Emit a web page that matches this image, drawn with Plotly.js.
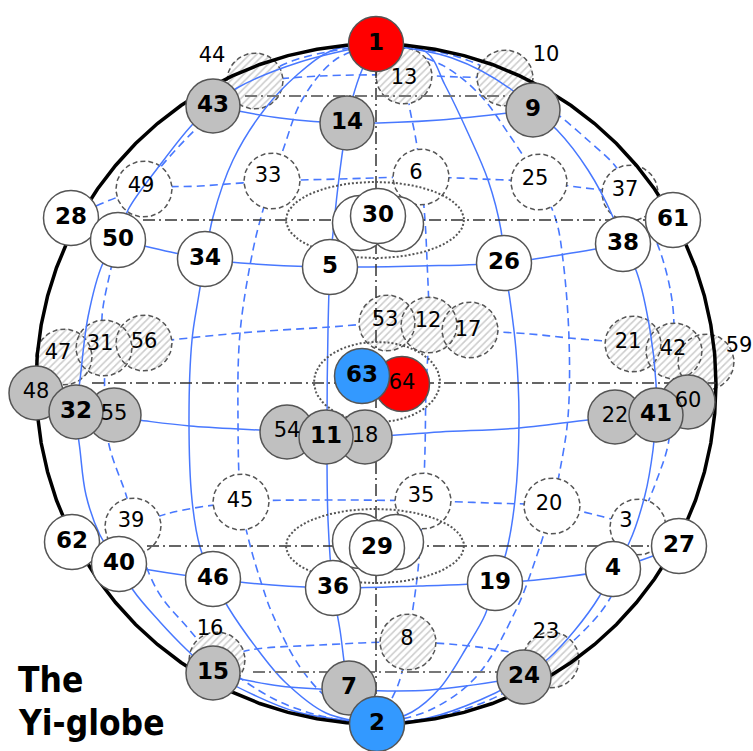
<!DOCTYPE html>
<html><head><meta charset="utf-8">
<script src="https://cdn.plot.ly/plotly-3.0.1.min.js"></script>
<style>html,body{margin:0;padding:0;background:#fff}#chart{width:753px;height:751px}</style>
</head><body><div id="chart"></div>
<script>
// ---------- solid nodes (draw order) ----------
const solidIds  = ['1','43','14','9','28','50','34','','','30','5','26','38','61','48','55','32','54','18','11','64','63','22','60','41','62','40','46','','','29','36','19','4','27','15','7','24','2'];
const solidX    = [376,213,347,533,71,118,205,360,396,378,330,504,623,673,36,114,76,287,365,326,402,362,615,688,656,72,119,213,360,396,377,333,495,613,679,213,349,524,377];
const solidY    = [44,106,123,110,218,240,259,223,224,216,267,263,244,220,393,415,412,432,437,437,384,376,417,402,415,542,564,579,541,542,548,588,583,569,546,673,688,677,724];
const solidKind = ['red','gray','gray','gray','white','white','white','white','white','white','white','white','white','white','gray','gray','gray','gray','gray','gray','red','blue','gray','gray','gray','white','white','white','white','white','white','white','white','white','white','gray','gray','gray','blue'];
const solidBig  = [1,1,1,1,1,1,1,0,0,1,1,1,1,1,0,0,1,0,0,1,0,1,0,0,1,1,1,1,0,0,1,1,1,1,1,1,1,1,1];

// ---------- dashed nodes ----------
const dashIds   = ['44','13','10','49','33','6','25','37','47','31','56','53','12','17','21','42','59','39','45','35','20','3','16','8','23'];
const dashX     = [255,404,505,144,272,421,539,630,64,104,144,387,429,470,633,674,706,133,241,423,552,638,217,408,551];
const dashY     = [81,76,78,189,181,177,182,193,357,348,343,323,325,330,344,351,362,526,502,501,506,527,660,642,660];
const dashHatch = [1,1,1,0,0,0,0,0,1,1,1,1,1,1,1,1,1,0,0,0,0,0,1,1,1];
const dashLabX  = [212,404,546,141,268,416,535,625,58,100,144,385,428,468,628,673,739,131,240,421,549,626,210,407,546];
const dashLabY  = [57,79,56,187,177,174,180,191,354,345,343,321,322,331,343,350,347,522,502,497,505,522,630,640,633];

// ---------- grid lines ----------
const mdA = [[376,44],[295,60],[255,81],[195,130],[144,189],[120,235],[110,273],[102,317],[104,348],[108,440],[127,498],[133,526],[157,590],[187,627],[217,660],[276,700],[330,718],[377,724]];
const mdB = [[376,44],[335,60],[302,100],[283,150],[272,181],[263,210],[253,250],[240,333],[238,420],[241,502],[250,545],[262,585],[272,613],[300,667],[330,700],[377,724]];
const mdC = [[376,44],[392,56],[404,76],[410,110],[416,140],[421,177],[425,220],[427,260],[429,325],[426,390],[425,450],[423,501],[418,570],[412,615],[408,642],[398,685],[377,724]];
const mdD = [[376,44],[442,65],[480,95],[508,133],[539,182],[556,220],[563,260],[569,338],[568,417],[560,470],[552,506],[537,555],[516,610],[476,677],[430,710],[377,724]];
const mdE = [[376,44],[455,56],[505,78],[552,110],[590,142],[616,167],[630,193],[657,243],[672,300],[674,351],[672,400],[668,445],[656,482],[638,527],[622,575],[600,613],[551,660],[500,695],[440,716],[377,724]];
const pd1 = [[255,81],[320,76],[404,75],[460,77],[505,78]];
const pd2 = [[96,206],[144,189],[200,186],[272,181],[340,179],[421,177],[480,179],[539,182],[585,188],[630,193]];
const pd3 = [[64,357],[104,348],[144,343],[240,333],[330,327],[387,323],[429,325],[470,330],[530,334],[569,338],[633,344],[674,351],[706,362]];
const pd4 = [[133,526],[170,513],[241,502],[320,500],[423,501],[490,503],[552,506],[600,516],[638,527]];
const pd5 = [[217,660],[250,650],[320,645],[408,642],[470,646],[510,652],[551,660]];

const ms1 = [[376,44],[300,62],[237,88],[213,106],[192,125],[160,165],[128,210],[118,240],[103,263],[88,317],[80,380],[76,412],[80,450],[86,495],[100,535],[119,564],[133,590],[160,622],[187,650],[213,673],[254,695],[297,712],[377,724]];
const ms2 = [[376,44],[333,50],[297,75],[264,110],[233,160],[213,217],[205,259],[198,300],[192,340],[189,417],[192,500],[200,547],[213,579],[228,607],[258,650],[285,682],[326,713],[377,724]];
const ms3 = [[376,44],[362,70],[352,100],[347,123],[340,170],[333,233],[330,267],[328,330],[327,437],[328,520],[333,588],[340,630],[349,688],[360,710],[377,724]];
const ms4 = [[376,44],[426,52],[445,85],[468,133],[488,180],[501,230],[504,263],[510,300],[516,350],[519,420],[515,500],[506,553],[495,583],[485,615],[468,645],[440,688],[412,712],[377,724]];
const ms5 = [[376,44],[452,58],[512,90],[533,110],[557,130],[588,170],[613,217],[623,244],[637,273],[650,330],[656,383],[656,415],[653,450],[645,495],[629,543],[613,569],[599,597],[575,630],[549,658],[524,677],[480,700],[428,718],[377,724]];
const ps1 = [[213,106],[280,118],[347,123],[440,120],[533,110]];
const ps2 = [[118,240],[175,253],[205,259],[270,265],[330,267],[420,266],[504,263],[560,255],[623,244]];
const ps3 = [[76,412],[138,420],[190,426],[287,432],[327,437],[365,437],[440,432],[519,428],[615,417],[656,415],[688,402]];
const ps4 = [[119,564],[150,570],[213,579],[272,585],[333,588],[420,586],[495,583],[555,578],[613,569],[679,546]];
const ps5 = [[213,673],[280,686],[349,690],[430,690],[524,677]];

// dash-dot guide lines
const ddY  = [220,383,546];
const ddX0 = [143,92,147];
const ddX1 = [646,716,649];
const ddVX = 376, ddVY0 = 44, ddVY1 = 724;
const grayY  = [96,672];
const grayX0 = [245,253];
const grayX1 = [510,500];

// dotted ellipses
const ellCX = [375,377,375], ellCY = [220,382,546], ellRX = [89,63,89], ellRY = [38,40,37];
// globe outline
const globeCX = 376, globeCY = 384, globeR = 340;

// ---------- build ----------
const BLUE = '#4878ff';
function lineTrace(pts, dash, w){
  return {x: pts.map(p=>p[0]), y: pts.map(p=>p[1]), mode:'lines', hoverinfo:'skip', showlegend:false,
    line:{color:BLUE, width:w, dash:dash, shape:'spline', smoothing:1}};
}
function ring(cx, cy, rx, ry, xs, ys){
  const n = 72;
  for(let i=0;i<=n;i++){ const a = 2*Math.PI*i/n; xs.push(cx+rx*Math.cos(a)); ys.push(cy+ry*Math.sin(a)); }
  xs.push(null); ys.push(null);
}
const traces = [];
[mdA,mdB,mdC,mdD,mdE,pd1,pd2,pd3,pd4,pd5].forEach(p=>traces.push(lineTrace(p,'8px,5px',1.6)));

// dashed circles
const pX=[],pY=[],hX=[],hY=[];
dashIds.forEach((id,i)=>{ if(dashHatch[i]) ring(dashX[i],dashY[i],28,28,hX,hY); else ring(dashX[i],dashY[i],28,28,pX,pY); });
traces.push({x:pX,y:pY,mode:'lines',fill:'toself',fillcolor:'#ffffff',hoverinfo:'skip',showlegend:false,
  line:{color:'#555',width:1.5,dash:'5px,3px'}});
traces.push({x:hX,y:hY,mode:'lines',fill:'toself',hoverinfo:'skip',showlegend:false,
  fillpattern:{shape:'/',bgcolor:'#ffffff',fgcolor:'#cccccc',size:5,solidity:0.3},
  line:{color:'#555',width:1.5,dash:'5px,3px'}});

[ms1,ms2,ms3,ms4,ms5,ps1,ps2,ps3,ps4,ps5].forEach(p=>traces.push(lineTrace(p,'solid',1.5)));

// globe outline
const gX=[],gY=[]; ring(globeCX,globeCY,globeR,globeR,gX,gY);
traces.push({x:gX,y:gY,mode:'lines',hoverinfo:'skip',showlegend:false,line:{color:'#000',width:3.5}});

// dash-dot lines
const dX=[],dY=[];
ddY.forEach((y,i)=>{dX.push(ddX0[i],ddX1[i],null); dY.push(y,y,null);});
dX.push(ddVX,ddVX,null); dY.push(ddVY0,ddVY1,null);
traces.push({x:dX,y:dY,mode:'lines',hoverinfo:'skip',showlegend:false,line:{color:'#333',width:1.5,dash:'12px,4px,2px,4px'}});
const gdX=[],gdY=[];
grayY.forEach((y,i)=>{gdX.push(grayX0[i],grayX1[i],null); gdY.push(y,y,null);});
traces.push({x:gdX,y:gdY,mode:'lines',hoverinfo:'skip',showlegend:false,line:{color:'#777',width:2,dash:'12px,4px,2px,4px'}});

// dotted ellipses
const eX=[],eY=[];
ellCX.forEach((c,i)=>ring(c,ellCY[i],ellRX[i],ellRY[i],eX,eY));
traces.push({x:eX,y:eY,mode:'lines',hoverinfo:'skip',showlegend:false,line:{color:'#555',width:2,dash:'2px,2px'}});

// solid nodes
const FILL = {red:'#ff0000', blue:'#3399ff', gray:'#c0c0c0', white:'#ffffff'};
traces.push({x:solidX,y:solidY,mode:'markers',hoverinfo:'skip',showlegend:false,
  marker:{symbol:'circle',opacity:1,size:solidKind.map(k=>k==='gray'?54:55),color:solidKind.map(k=>FILL[k]),
  line:{color:'#555',width:1.5}}});

// labels
const bigI = solidIds.map((s,i)=>i).filter(i=>solidIds[i] && solidBig[i]);
const smallI = solidIds.map((s,i)=>i).filter(i=>solidIds[i] && !solidBig[i]);
traces.push({x:bigI.map(i=>solidX[i]),y:bigI.map(i=>solidY[i]),text:bigI.map(i=>solidIds[i]),mode:'text',
  textposition:'middle center',hoverinfo:'skip',showlegend:false,cliponaxis:false,
  textfont:{family:'DejaVu Sans',size:23,weight:'bold',color:'#000'}});
traces.push({x:smallI.map(i=>solidX[i]),y:smallI.map(i=>solidY[i]),text:smallI.map(i=>solidIds[i]),mode:'text',
  textposition:'middle center',hoverinfo:'skip',showlegend:false,cliponaxis:false,
  textfont:{family:'DejaVu Sans',size:21,color:'#000'}});
traces.push({x:dashLabX,y:dashLabY,text:dashIds,mode:'text',textposition:'middle center',hoverinfo:'skip',
  showlegend:false,cliponaxis:false,textfont:{family:'DejaVu Sans',size:21,color:'#000'}});

const layout = {
  width:753, height:751, margin:{l:0,r:0,t:0,b:0}, paper_bgcolor:'#fff', plot_bgcolor:'#fff',
  showlegend:false,
  xaxis:{range:[0,753],visible:false,fixedrange:true},
  yaxis:{range:[751,0],visible:false,fixedrange:true},
  annotations:[
    {x:16,y:680,xref:'x',yref:'y',text:'The',showarrow:false,xanchor:'left',yanchor:'middle',
     font:{family:'DejaVu Sans Condensed, DejaVu Sans',size:35,weight:'bold',color:'#000'}},
    {x:16,y:723,xref:'x',yref:'y',text:'Yi-globe',showarrow:false,xanchor:'left',yanchor:'middle',
     font:{family:'DejaVu Sans Condensed, DejaVu Sans',size:35,weight:'bold',color:'#000'}}
  ]
};
Plotly.newPlot('chart', traces, layout, {staticPlot:true, displayModeBar:false});
</script></body></html>
